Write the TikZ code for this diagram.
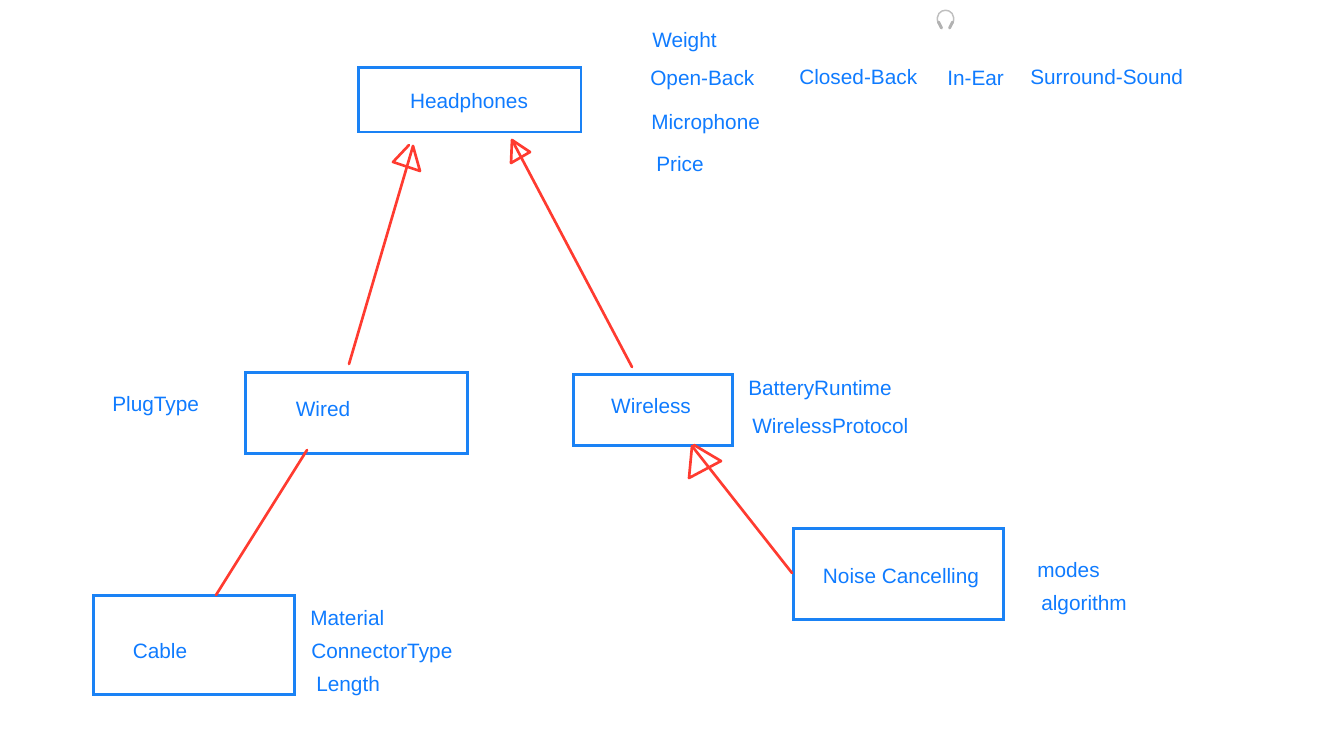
\documentclass[tikz,border=0pt]{standalone}
\usepackage{fontspec}
\setmainfont{Liberation Sans}
\definecolor{boxblue}{HTML}{1A82F5}
\definecolor{textblue}{HTML}{0F7BFF}
\definecolor{linered}{HTML}{FF3B30}
\begin{document}
\begin{tikzpicture}[x=0.75pt, y=-0.75pt,
	every node/.style={inner sep=0pt},
	box/.style={draw=boxblue, line width=1.9pt, anchor=north west},
	lbl/.style={text=textblue, font=\fontsize{15.6pt}{18pt}\selectfont},
	attr/.style={lbl, anchor=base west},
	rel/.style={draw=linered, line width=2pt, line cap=round, line join=round}]
	\useasboundingbox (0,0) rectangle (1323,733);
	% boxes
	\node[box, minimum width=167pt,    minimum height=48.5pt]  (headphones) at (357,66)  {};
	\node[box, minimum width=166.75pt, minimum height=60.75pt] (wired)      at (244,371) {};
	\node[box, minimum width=119.25pt, minimum height=53.25pt] (wireless)   at (572,373) {};
	\node[box, minimum width=150.75pt, minimum height=74.25pt] (cable)      at (92,594)  {};
	\node[box, minimum width=157.75pt, minimum height=68.25pt] (noise)      at (792,527) {};
	% box titles
	\node[lbl] (tHeadphones) at (469,103) {Headphones};
	\node[lbl] (tWired)      at (323,409) {Wired};
	\node[lbl] (tWireless)   at (651,406) {Wireless};
	\node[lbl] (tCable)      at (160,651) {Cable};
	\node[lbl] (tNoise)      at (901,578) {Noise Cancelling};
	% attributes
	\foreach \name/\x/\y/\txt in {
		weight/652/47/Weight, openback/650/85/Open-Back, closedback/799/84/Closed-Back,
		inear/947/85/In-Ear, surround/1030/84/Surround-Sound,
		microphone/651/129/Microphone, price/656/171/Price,
		plugtype/112/411/PlugType,
		battery/748/395/BatteryRuntime, protocol/752/433/WirelessProtocol,
		material/310/625/Material, connector/311/658/ConnectorType, length/316/691/Length,
		modes/1037/577/modes, algorithm/1041/610/algorithm}
	\node[attr] (\name) at (\x,\y) {\txt};
	% connector ends
	\coordinate (wiredTop)     at (349,364);
	\coordinate (wiredTip)     at (413,146);
	\coordinate (wirelessTop)  at (632,367);
	\coordinate (wirelessTip)  at (512,140);
	\coordinate (wiredLow)     at (307,450);
	\coordinate (cableTop)     at (216,595);
	\coordinate (noiseLeft)    at (792,573);
	\coordinate (noiseTip)     at (692,446);
	\foreach \from/\to in {
		wiredTop/wiredTip, wirelessTop/wirelessTip,
		wiredLow/cableTop, noiseLeft/noiseTip}
	\draw[rel] (\from) -- (\to);
	% hand drawn arrow heads
	\draw[rel] (409,145) -- (393,162) -- (420,171) -- (413,146);
	\draw[rel] (511,163) -- (512,140) -- (530,152) -- (511,163);
	\draw[rel] (692,446) -- (689,478) -- (721,461) -- (694,445);
	% headphones icon
	\draw[draw=black!25, line width=1.1pt, line cap=round] (938,23) .. controls (933,6) and (958,6) .. (953,23);
	\draw[draw=black!30, line width=2.2pt, line cap=round] (938.5,22) -- (941.5,28);
	\draw[draw=black!30, line width=2.2pt, line cap=round] (952.5,22) -- (949.5,28);
\end{tikzpicture}
\end{document}
